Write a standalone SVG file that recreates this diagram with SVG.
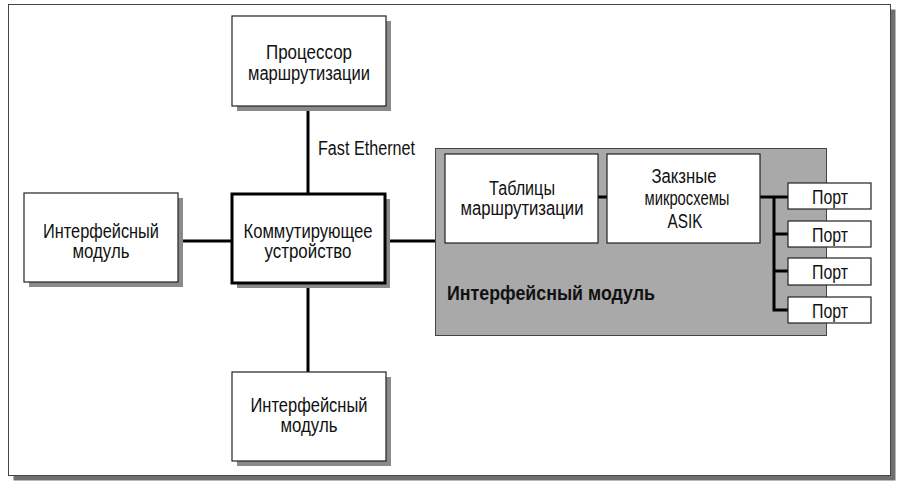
<svg xmlns="http://www.w3.org/2000/svg" width="898" height="485" viewBox="0 0 898 485">
<style>
.sh{fill:#8a8a8a;stroke:none}
.box{fill:#fff;stroke:#222;stroke-width:1.2}
.thick{fill:#fff;stroke:#000;stroke-width:3}
.t{font-family:"Liberation Sans Narrow","Liberation Sans",Arial,sans-serif;font-size:20px;fill:#111;text-anchor:middle}
.l{text-anchor:start}
.b{font-weight:bold}
.c{stroke:#000;stroke-width:3;fill:none}
</style>
<rect width="898" height="485" fill="#fff"/>
<g id="frame">
<rect x="13.5" y="9.5" width="882" height="471" fill="#707070"/>
<rect x="8.5" y="4.5" width="882" height="471" fill="#fff" stroke="#444" stroke-width="1"/>
</g>
<g id="connectors">
<line class="c" x1="308" y1="106" x2="308" y2="194"/>
<line class="c" x1="308" y1="283" x2="308" y2="372"/>
<line class="c" x1="178" y1="241" x2="232" y2="241"/>
<line class="c" x1="385" y1="241" x2="436" y2="241"/>
</g>
<g id="processor">
<rect class="sh" x="237" y="21" width="154" height="90"/>
<rect class="box" x="232" y="16" width="154" height="90"/>
<text class="t" x="309" y="59" textLength="86" lengthAdjust="spacingAndGlyphs">Процессор</text>
<text class="t" x="309" y="80" textLength="122" lengthAdjust="spacingAndGlyphs">маршрутизации</text>
</g>
<g id="fast-ethernet-label">
<text class="t l" x="318" y="155" textLength="97" lengthAdjust="spacingAndGlyphs">Fast Ethernet</text>
</g>
<g id="left-module">
<rect class="sh" x="29" y="198" width="154" height="89"/>
<rect class="box" x="24" y="193" width="154" height="89"/>
<text class="t" x="101" y="238" textLength="116" lengthAdjust="spacingAndGlyphs">Интерфейсный</text>
<text class="t" x="101" y="258" textLength="57" lengthAdjust="spacingAndGlyphs">модуль</text>
</g>
<g id="switch">
<rect class="sh" x="237" y="199" width="153" height="89"/>
<rect class="thick" x="232" y="194" width="153" height="89"/>
<text class="t" x="308" y="238" textLength="129" lengthAdjust="spacingAndGlyphs">Коммутирующее</text>
<text class="t" x="308" y="258" textLength="87" lengthAdjust="spacingAndGlyphs">устройство</text>
</g>
<g id="bottom-module">
<rect class="sh" x="237" y="377" width="154" height="89"/>
<rect class="box" x="232" y="372" width="154" height="89"/>
<text class="t" x="309" y="412" textLength="117" lengthAdjust="spacingAndGlyphs">Интерфейсный</text>
<text class="t" x="309" y="432" textLength="57" lengthAdjust="spacingAndGlyphs">модуль</text>
</g>
<g id="interface-module-panel">
<rect x="435.5" y="148.5" width="391" height="187" fill="#a9a9a9" stroke="#444" stroke-width="1"/>
<text class="t l b" x="447" y="300" textLength="208" lengthAdjust="spacingAndGlyphs">Интерфейсный модуль</text>
</g>
<g id="panel-connectors">
<line class="c" x1="598" y1="197" x2="607" y2="197"/>
<polyline class="c" points="760,197 788,197"/>
<polyline class="c" points="774,197 774,310 788,310"/>
<line class="c" x1="774" y1="234" x2="788" y2="234"/>
<line class="c" x1="774" y1="271" x2="788" y2="271"/>
</g>
<g id="routing-tables">
<rect class="box" x="445" y="154" width="153" height="89"/>
<text class="t" x="522" y="195" textLength="66" lengthAdjust="spacingAndGlyphs">Таблицы</text>
<text class="t" x="522" y="215" textLength="123" lengthAdjust="spacingAndGlyphs">маршрутизации</text>
</g>
<g id="asic">
<rect class="box" x="607" y="154" width="153" height="89"/>
<text class="t" x="684" y="183" textLength="65" lengthAdjust="spacingAndGlyphs">Закзные</text>
<text class="t" x="687" y="205" textLength="85" lengthAdjust="spacingAndGlyphs">микросхемы</text>
<text class="t" x="685" y="228" textLength="35" lengthAdjust="spacingAndGlyphs">ASIK</text>
</g>
<g id="port1">
<rect class="box" x="788" y="183" width="83" height="26"/>
<text class="t" x="830" y="204" textLength="36" lengthAdjust="spacingAndGlyphs">Порт</text>
</g>
<g id="port2">
<rect class="box" x="788" y="221" width="83" height="26"/>
<text class="t" x="830" y="242" textLength="36" lengthAdjust="spacingAndGlyphs">Порт</text>
</g>
<g id="port3">
<rect class="box" x="788" y="258" width="83" height="27"/>
<text class="t" x="830" y="279" textLength="36" lengthAdjust="spacingAndGlyphs">Порт</text>
</g>
<g id="port4">
<rect class="box" x="788" y="297" width="83" height="26"/>
<text class="t" x="830" y="318" textLength="36" lengthAdjust="spacingAndGlyphs">Порт</text>
</g>
</svg>
